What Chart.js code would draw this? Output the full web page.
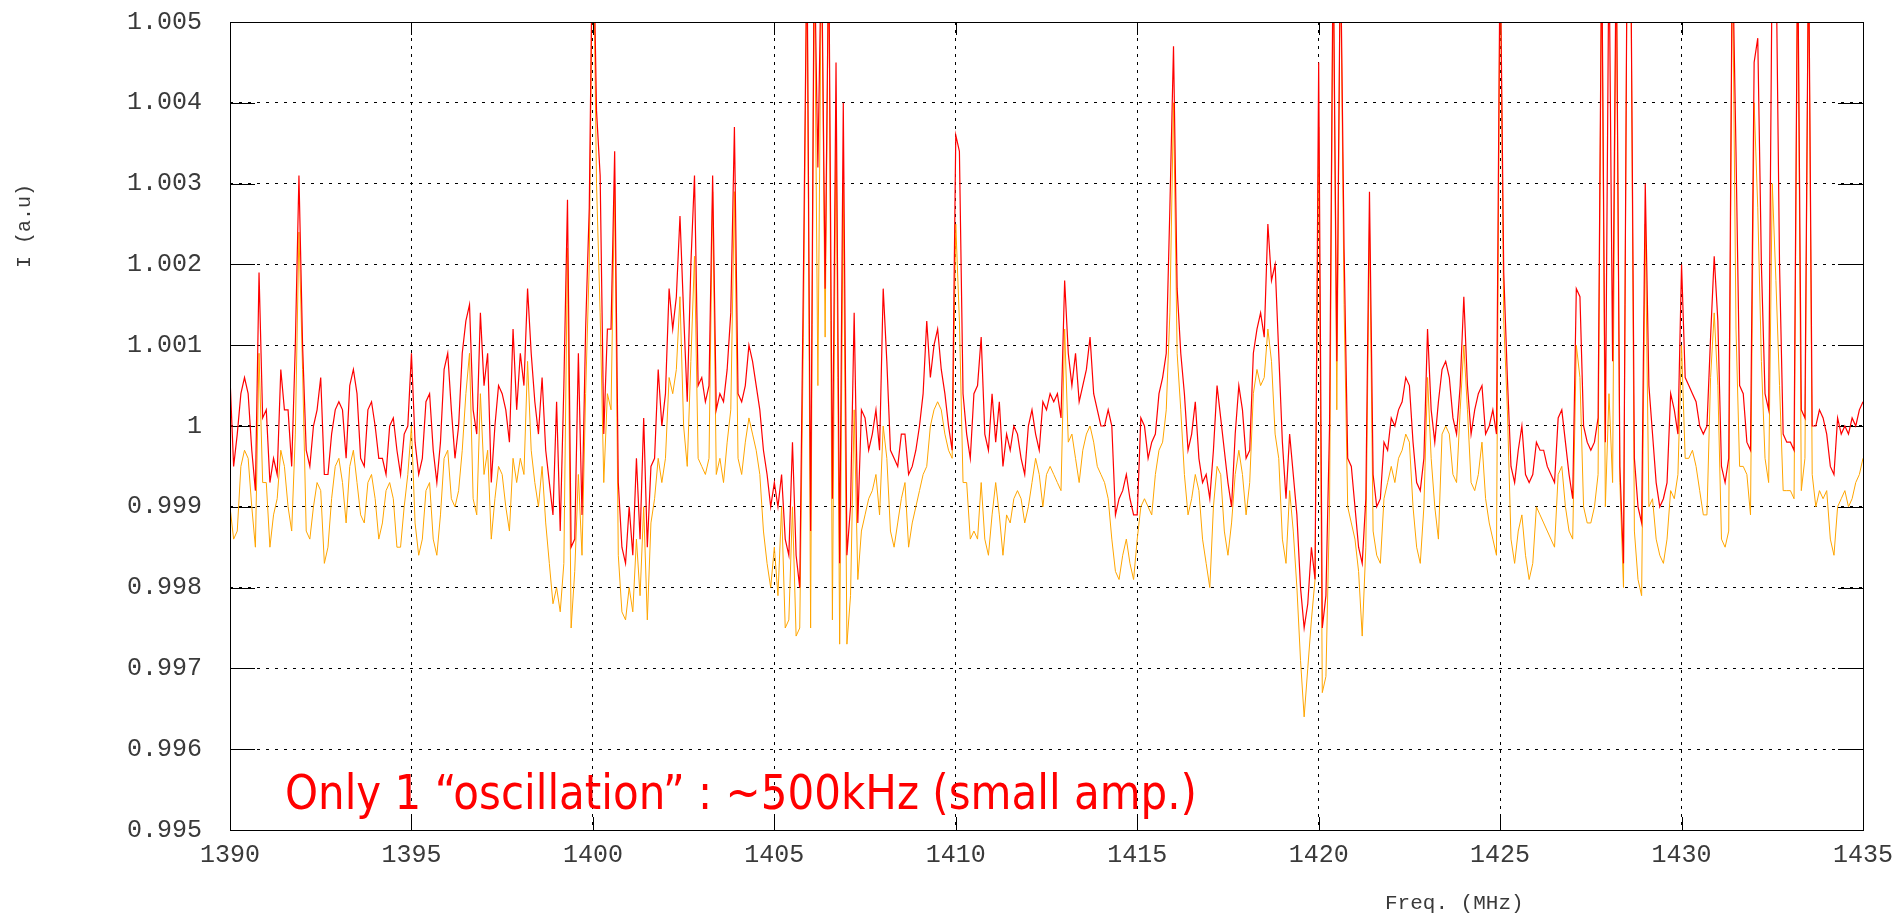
<!DOCTYPE html>
<html>
<head>
<meta charset="utf-8">
<title>I (a.u) vs Freq. (MHz)</title>
<script src="https://cdn.jsdelivr.net/npm/chart.js@4.4.0/dist/chart.umd.min.js"></script>
<style>
  html, body { margin: 0; padding: 0; background: #fff; }
  canvas { display: block; }
</style>
</head>
<body>
<canvas id="spec" width="1901" height="914" style="width:1901px;height:914px"></canvas>
<script>
// sampling of the spectrum: one point every 0.1 MHz from 1390 to 1435
const freqStart = 1390;
const freqStep = 0.1;

// red trace (0.1 MHz apart)
const redValues = [
  1.0006,0.9995,0.9999,1.0004,1.0006,1.0004,0.9997,0.9992,1.0019,1.0001,
  1.0002,0.9993,0.9996,0.9994,1.0007,1.0002,1.0002,0.9995,1.0010,1.0031,
  1.0010,0.9997,0.9995,1.0000,1.0002,1.0006,0.9994,0.9994,0.9999,1.0002,
  1.0003,1.0002,0.9996,1.0005,1.0007,1.0004,0.9996,0.9995,1.0002,1.0003,
  1.0000,0.9996,0.9996,0.9994,1.0000,1.0001,0.9997,0.9994,0.9999,1.0000,
  1.0009,0.9998,0.9994,0.9996,1.0003,1.0004,0.9997,0.9993,0.9998,1.0007,
  1.0009,1.0002,0.9996,1.0000,1.0009,1.0013,1.0015,1.0002,0.9999,1.0014,
  1.0005,1.0009,0.9993,1.0000,1.0005,
  1.0004,1.0002,0.9998,1.0012,1.0002,1.0009,1.0005,1.0017,1.0009,1.0003,
  0.9999,1.0006,0.9997,0.9993,0.9989,1.0003,0.9987,1.0005,1.0028,0.9985,
  0.9986,1.0009,0.9989,1.0012,1.0027,1.0065,1.0039,1.0031,0.9999,1.0012,
  1.0012,1.0034,0.9993,0.9985,0.9983,0.9990,0.9984,0.9996,0.9986,1.0001,
  0.9985,0.9995,0.9996,1.0007,1.0000,1.0004,1.0017,1.0012,1.0016,1.0026,
  1.0014,1.0003,1.0020,1.0031,1.0005,1.0006,1.0003,1.0005,1.0031,1.0002,
  1.0004,1.0003,1.0007,1.0014,1.0037,1.0004,1.0003,1.0005,1.0010,1.0008,
  1.0005,1.0002,0.9997,0.9994,0.9990,
  0.9993,0.9990,0.9994,0.9986,0.9984,0.9998,0.9984,0.9980,1.0018,1.0060,
  0.9987,1.0060,1.0032,1.0060,1.0017,1.0060,0.9991,1.0045,0.9983,1.0040,
  0.9984,0.9990,1.0014,0.9988,1.0002,1.0001,0.9997,0.9999,1.0002,0.9997,
  1.0017,1.0008,0.9997,0.9996,0.9995,0.9999,0.9999,0.9994,0.9995,0.9997,
  1.0000,1.0004,1.0013,1.0006,1.0010,1.0012,1.0007,1.0004,1.0000,0.9997,
  1.0036,1.0034,1.0004,0.9999,0.9996,1.0004,1.0005,1.0011,0.9999,0.9997,
  1.0004,0.9998,1.0003,0.9995,0.9999,0.9997,1.0000,0.9999,0.9996,0.9994,
  1.0000,1.0002,0.9999,0.9997,1.0003,
  1.0002,1.0004,1.0003,1.0004,1.0001,1.0018,1.0009,1.0005,1.0009,1.0003,
  1.0005,1.0007,1.0011,1.0004,1.0002,1.0000,1.0000,1.0002,1.0000,0.9989,
  0.9991,0.9992,0.9994,0.9991,0.9989,0.9989,1.0001,1.0000,0.9996,0.9998,
  0.9999,1.0004,1.0006,1.0009,1.0027,1.0047,1.0017,1.0009,1.0004,0.9997,
  0.9999,1.0003,0.9996,0.9993,0.9994,0.9991,0.9997,1.0005,1.0001,0.9997,
  0.9993,0.9990,0.9999,1.0005,1.0002,0.9996,0.9997,1.0009,1.0012,1.0014,
  1.0011,1.0025,1.0018,1.0020,1.0009,0.9998,0.9991,0.9999,0.9994,0.9989,
  0.9980,0.9975,0.9978,0.9985,0.9981,
  1.0045,0.9975,0.9979,1.0000,1.0060,1.0008,1.0060,1.0022,0.9996,0.9995,
  0.9990,0.9985,0.9983,0.9991,1.0029,0.9994,0.9990,0.9991,0.9998,0.9997,
  1.0001,1.0000,1.0002,1.0003,1.0006,1.0005,0.9998,0.9993,0.9992,0.9996,
  1.0012,1.0002,0.9998,1.0003,1.0007,1.0008,1.0006,1.0001,0.9999,1.0005,
  1.0016,1.0005,0.9999,1.0002,1.0004,1.0005,0.9999,1.0000,1.0002,0.9999,
  1.0060,1.0019,1.0006,0.9995,0.9993,0.9997,1.0000,0.9994,0.9993,0.9994,
  0.9998,0.9997,0.9997,0.9995,0.9994,0.9993,1.0001,1.0002,0.9998,0.9994,
  0.9991,1.0017,1.0016,1.0000,0.9998,
  0.9997,0.9998,1.0001,1.0060,0.9998,1.0060,1.0008,1.0060,0.9995,0.9983,
  1.0060,1.0060,0.9996,0.9990,0.9988,1.0030,1.0005,0.9999,0.9993,0.9990,
  0.9991,0.9993,1.0004,1.0002,0.9999,1.0020,1.0006,1.0005,1.0004,1.0003,
  1.0000,0.9999,1.0000,1.0011,1.0021,1.0013,0.9995,0.9993,0.9996,1.0060,
  1.0034,1.0005,1.0004,0.9998,0.9997,1.0045,1.0048,1.0020,1.0004,1.0002,
  1.0060,1.0060,1.0020,0.9999,0.9998,0.9998,0.9997,1.0060,1.0002,1.0001,
  1.0060,1.0000,1.0000,1.0002,1.0001,0.9999,0.9995,0.9994,1.0001,0.9999,
  1.0000,0.9999,1.0001,1.0000,1.0002,1.0003
];

// orange trace
const orangeValues = [
  0.9990,0.9986,0.9987,0.9995,0.9997,0.9996,0.9990,0.9985,1.0009,0.9993,
  0.9993,0.9985,0.9989,0.9991,0.9997,0.9995,0.9990,0.9987,0.9999,1.0024,
  1.0007,0.9987,0.9986,0.9990,0.9993,0.9992,0.9983,0.9985,0.9991,0.9995,
  0.9996,0.9993,0.9988,0.9995,0.9997,0.9993,0.9989,0.9988,0.9993,0.9994,
  0.9991,0.9986,0.9988,0.9992,0.9993,0.9991,0.9985,0.9985,0.9990,0.9994,
  1.0000,0.9988,0.9984,0.9986,0.9992,0.9993,0.9986,0.9984,0.9989,0.9996,
  0.9997,0.9991,0.9990,0.9992,0.9997,1.0004,1.0009,0.9991,0.9989,1.0004,
  0.9994,0.9997,0.9986,0.9991,0.9995,
  0.9994,0.9990,0.9987,0.9996,0.9993,0.9996,0.9994,1.0008,0.9997,0.9993,
  0.9990,0.9995,0.9988,0.9983,0.9978,0.9980,0.9977,0.9983,1.0022,0.9975,
  0.9982,0.9994,0.9984,1.0004,1.0020,1.0065,1.0030,1.0014,0.9993,1.0004,
  1.0002,1.0030,0.9984,0.9977,0.9976,0.9980,0.9977,0.9986,0.9979,0.9990,
  0.9976,0.9988,0.9991,0.9996,0.9993,0.9996,1.0006,1.0004,1.0007,1.0016,
  1.0000,0.9995,1.0008,1.0021,0.9996,0.9995,0.9994,0.9996,1.0029,0.9994,
  0.9996,0.9993,0.9998,1.0002,1.0029,0.9996,0.9994,0.9998,1.0001,0.9999,
  0.9997,0.9994,0.9987,0.9983,0.9980,
  0.9985,0.9979,0.9990,0.9975,0.9976,0.9990,0.9974,0.9975,1.0011,1.0060,
  0.9975,1.0060,1.0005,1.0060,1.0011,1.0060,0.9976,1.0039,0.9973,1.0030,
  0.9973,0.9979,1.0002,0.9981,0.9987,0.9989,0.9991,0.9992,0.9994,0.9989,
  1.0000,0.9996,0.9987,0.9985,0.9988,0.9991,0.9993,0.9985,0.9988,0.9990,
  0.9992,0.9994,0.9995,1.0000,1.0002,1.0003,1.0002,0.9999,0.9997,0.9996,
  1.0025,1.0013,0.9993,0.9993,0.9986,0.9987,0.9986,0.9993,0.9986,0.9984,
  0.9989,0.9993,0.9989,0.9984,0.9989,0.9988,0.9991,0.9992,0.9991,0.9988,
  0.9990,0.9993,0.9996,0.9994,0.9990,
  0.9994,0.9995,0.9994,0.9993,0.9992,1.0012,0.9998,0.9999,0.9996,0.9993,
  0.9997,0.9999,1.0000,0.9998,0.9995,0.9994,0.9993,0.9991,0.9986,0.9982,
  0.9981,0.9984,0.9986,0.9983,0.9981,0.9986,0.9990,0.9991,0.9990,0.9989,
  0.9994,0.9997,0.9998,1.0002,1.0014,1.0040,1.0009,1.0002,0.9994,0.9989,
  0.9991,0.9994,0.9992,0.9986,0.9983,0.9980,0.9990,0.9995,0.9994,0.9987,
  0.9984,0.9988,0.9994,0.9997,0.9994,0.9989,0.9993,1.0004,1.0007,1.0005,
  1.0006,1.0012,1.0008,0.9999,0.9996,0.9986,0.9983,0.9992,0.9987,0.9980,
  0.9971,0.9964,0.9970,0.9976,0.9981,
  1.0037,0.9967,0.9969,0.9990,1.0060,1.0002,1.0060,1.0015,0.9990,0.9988,
  0.9986,0.9982,0.9974,0.9985,1.0025,0.9987,0.9984,0.9983,0.9991,0.9993,
  0.9995,0.9993,0.9996,0.9997,0.9999,0.9998,0.9990,0.9985,0.9983,0.9990,
  1.0006,0.9996,0.9990,0.9986,0.9999,1.0000,0.9999,0.9994,0.9993,1.0002,
  1.0010,1.0002,0.9993,0.9992,0.9994,0.9998,0.9991,0.9988,0.9986,0.9984,
  1.0060,1.0013,1.0002,0.9986,0.9983,0.9987,0.9989,0.9984,0.9981,0.9983,
  0.9990,0.9989,0.9988,0.9987,0.9986,0.9985,0.9994,0.9995,0.9990,0.9987,
  0.9986,1.0010,1.0006,0.9990,0.9988,
  0.9988,0.9990,0.9994,1.0060,0.9990,1.0004,0.9993,1.0060,0.9993,0.9980,
  1.0060,1.0060,0.9987,0.9981,0.9979,1.0025,0.9990,0.9991,0.9986,0.9984,
  0.9983,0.9986,0.9992,0.9991,0.9994,1.0010,0.9996,0.9996,0.9997,0.9995,
  0.9992,0.9989,0.9989,1.0006,1.0014,1.0005,0.9986,0.9985,0.9987,1.0060,
  1.0012,0.9995,0.9995,0.9994,0.9989,1.0040,1.0027,1.0008,0.9996,0.9993,
  1.0030,1.0018,1.0005,0.9992,0.9992,0.9992,0.9991,1.0060,0.9992,0.9996,
  1.0060,0.9994,0.9990,0.9992,0.9991,0.9992,0.9986,0.9984,0.9990,0.9991,
  0.9992,0.9990,0.9991,0.9993,0.9994,0.9996
];

const xTickValues = [1390, 1395, 1400, 1405, 1410, 1415, 1420, 1425, 1430, 1435];
const yTickValues = [0.995, 0.996, 0.997, 0.998, 0.999, 1, 1.001, 1.002, 1.003, 1.004, 1.005];

const yTitle = 'I (a.u)';
const xTitle = 'Freq. (MHz)';
const note = 'Only 1 \u201coscillation\u201d : ~500kHz (small amp.)';

const toPoints = vals => vals.map((v, i) => ({ x: +(freqStart + i * freqStep).toFixed(1), y: v }));

const monoFont = '"Liberation Mono", "Courier New", monospace';
const textGrey = '#3a3a3a';

// mirrored tick marks, frame, axis titles and the red note
const gnuplotBits = {
  id: 'gnuplotBits',
  beforeDatasetsDraw(chart) {
    const { ctx, chartArea: a, scales: { x, y } } = chart;
    ctx.save();
    ctx.strokeStyle = '#000';
    ctx.lineWidth = 1;
    ctx.beginPath();
    yTickValues.forEach(v => {
      const py = Math.round(y.getPixelForValue(v)) + 0.5;
      ctx.moveTo(a.left, py); ctx.lineTo(a.left + 25, py);
      ctx.moveTo(a.right - 25, py); ctx.lineTo(a.right, py);
    });
    xTickValues.forEach(v => {
      const px = Math.round(x.getPixelForValue(v)) + 0.5;
      ctx.moveTo(px, a.bottom); ctx.lineTo(px, a.bottom - 13);
      ctx.moveTo(px, a.top); ctx.lineTo(px, a.top + 13);
    });
    ctx.stroke();
    ctx.restore();
  },
  afterDraw(chart) {
    const { ctx, chartArea: a } = chart;
    ctx.save();
    ctx.strokeStyle = '#000';
    ctx.lineWidth = 1;
    ctx.strokeRect(Math.round(a.left) + 0.5, Math.round(a.top) + 0.5,
      Math.round(a.right - a.left), Math.round(a.bottom - a.top));

    ctx.fillStyle = textGrey;
    ctx.font = '20px ' + monoFont;
    ctx.textAlign = 'center';
    ctx.textBaseline = 'middle';
    ctx.save();
    ctx.translate(25, 226);
    ctx.rotate(-Math.PI / 2);
    ctx.fillText(yTitle, 0, 0);
    ctx.restore();

    ctx.font = '21px ' + monoFont;
    ctx.textAlign = 'left';
    ctx.fillText(xTitle, 1385, 903);

    ctx.fillStyle = '#ff0000';
    ctx.font = '48px "DejaVu Sans", Verdana, sans-serif';
    ctx.textBaseline = 'alphabetic';
    const w = ctx.measureText(note).width;
    ctx.translate(285, 809);
    ctx.scale(912 / w, 1);
    ctx.fillText(note, 0, 0);
    ctx.restore();
  }
};

new Chart(document.getElementById('spec'), {
  type: 'line',
  data: {
    datasets: [
      { data: toPoints(redValues), borderColor: '#ff0000', borderWidth: 1.2 },
      { data: toPoints(orangeValues), borderColor: '#ffa500', borderWidth: 1 }
    ]
  },
  options: {
    responsive: false,
    devicePixelRatio: 1,
    animation: false,
    layout: { padding: { top: 22, right: 38, bottom: 0, left: 0 } },
    elements: {
      point: { radius: 0 },
      line: { tension: 0 }
    },
    plugins: { legend: { display: false }, tooltip: { enabled: false } },
    scales: {
      x: {
        type: 'linear',
        min: 1390, max: 1435,
        afterFit: s => { s.height = 84; },
        afterBuildTicks: s => { s.ticks = xTickValues.map(v => ({ value: v })); },
        ticks: {
          callback: v => String(v),
          font: { family: monoFont, size: 25 },
          color: textGrey,
          padding: 0,
          maxRotation: 0
        },
        grid: { color: '#000', lineWidth: 1, drawTicks: true, tickLength: 10, tickColor: 'rgba(0,0,0,0)' },
        border: { display: false, dash: [3, 5] }
      },
      y: {
        type: 'linear',
        min: 0.995, max: 1.005,
        afterFit: s => { s.width = 230; },
        afterBuildTicks: s => { s.ticks = yTickValues.map(v => ({ value: v })); },
        ticks: {
          callback: v => String(+v.toFixed(3)),
          font: { family: monoFont, size: 25 },
          color: textGrey,
          padding: 0
        },
        grid: { color: '#000', lineWidth: 1, drawTicks: true, tickLength: 28, tickColor: 'rgba(0,0,0,0)' },
        border: { display: false, dash: [3, 6] }
      }
    }
  },
  plugins: [gnuplotBits]
});
</script>
</body>
</html>
